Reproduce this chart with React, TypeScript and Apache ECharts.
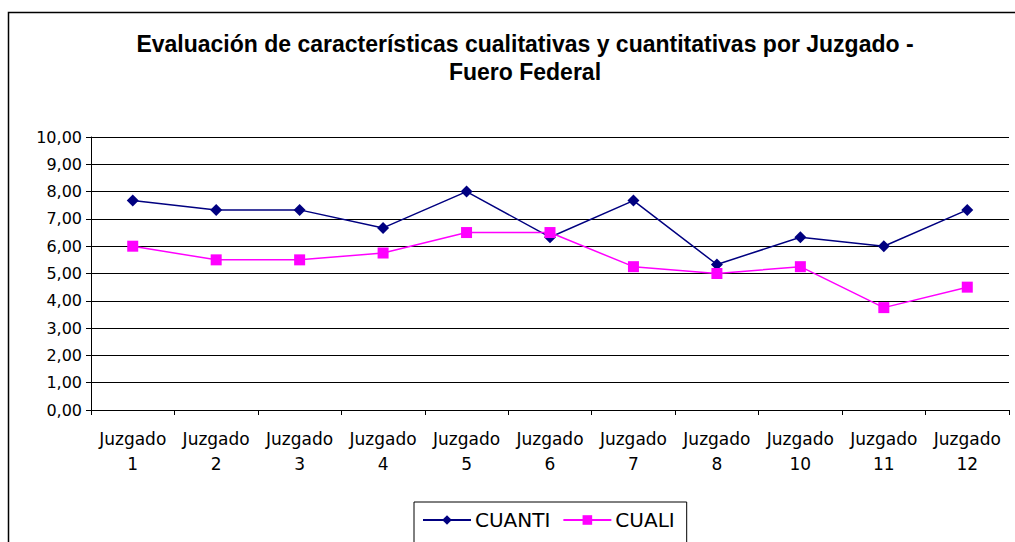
import React, { useEffect, useRef } from "react";
import * as echarts from "echarts";

const categories = [
  "Juzgado\n1", "Juzgado\n2", "Juzgado\n3", "Juzgado\n4", "Juzgado\n5", "Juzgado\n6",
  "Juzgado\n7", "Juzgado\n8", "Juzgado\n10", "Juzgado\n11", "Juzgado\n12",
];
const cuanti = [7.67, 7.33, 7.33, 6.67, 8.0, 6.33, 7.67, 5.33, 6.33, 6.0, 7.33];
const cuali = [6.0, 5.5, 5.5, 5.75, 6.5, 6.5, 5.25, 5.0, 5.25, 3.75, 4.5];
const titleText = "Evaluación de características cualitativas y cuantitativas por Juzgado -\nFuero Federal";

export default function App() {
  const ref = useRef<HTMLDivElement>(null);
  useEffect(() => {
    const chart = echarts.init(ref.current!, undefined, { renderer: "svg" });
    chart.setOption({
      animation: false,
      backgroundColor: "#ffffff",
      graphic: [
        {
          type: "rect",
          shape: { x: 8.5, y: 12.5, width: 1200, height: 700 },
          style: { fill: "none", stroke: "#000", lineWidth: 1.5 },
          silent: true,
        },
      ],
      title: {
        text: titleText,
        left: 520,
        textAlign: "center",
        top: 25,
        textStyle: {
          fontFamily: "Liberation Sans",
          fontWeight: "bold",
          fontSize: 23,
          lineHeight: 28,
          color: "#000",
        },
      },
      legend: {
        left: 414,
        top: 502,
        width: 280,
        itemWidth: 48,
        itemHeight: 12,
        itemGap: 12,
        padding: [8, 12, 14, 8],
        borderColor: "#000",
        borderWidth: 1,
        textStyle: { fontFamily: "DejaVu Sans", fontSize: 20, color: "#000", padding: [0, 0, 0, -1] },
        data: ["CUANTI", "CUALI"],
      },
      grid: { left: 91, right: 6, top: 137, bottom: 132, containLabel: false },
      xAxis: {
        type: "category",
        data: categories,
        boundaryGap: true,
        axisLine: { lineStyle: { color: "#000", width: 1 } },
        axisTick: { show: true, length: 5, alignWithLabel: false, lineStyle: { color: "#000" } },
        axisLabel: {
          interval: 0,
          margin: 16,
          fontFamily: "DejaVu Sans",
          fontSize: 17,
          lineHeight: 25,
          color: "#000",
        },
      },
      yAxis: {
        type: "value",
        min: 0,
        max: 10,
        interval: 1,
        axisLine: { show: true, lineStyle: { color: "#000", width: 1 } },
        axisTick: { show: true, length: 5, lineStyle: { color: "#000" } },
        axisLabel: {
          margin: 9,
          fontFamily: "DejaVu Sans",
          fontSize: 16,
          color: "#000",
          formatter: (v: number) => v.toFixed(2).replace(".", ","),
        },
        splitLine: { show: true, lineStyle: { color: "#000", width: 1 } },
      },
      series: [
        {
          name: "CUANTI",
          type: "line",
          data: cuanti,
          symbol: "diamond",
          symbolSize: 12,
          itemStyle: { color: "#000080" },
          lineStyle: { color: "#000080", width: 1.5 },
        },
        {
          name: "CUALI",
          type: "line",
          data: cuali,
          symbol: "rect",
          symbolSize: 11,
          itemStyle: { color: "#ff00ff" },
          lineStyle: { color: "#ff00ff", width: 1.5 },
        },
      ],
    });
    return () => chart.dispose();
  }, []);
  return <div ref={ref} style={{ width: 1015, height: 542, position: "absolute", left: 0, top: 0 }} />;
}
